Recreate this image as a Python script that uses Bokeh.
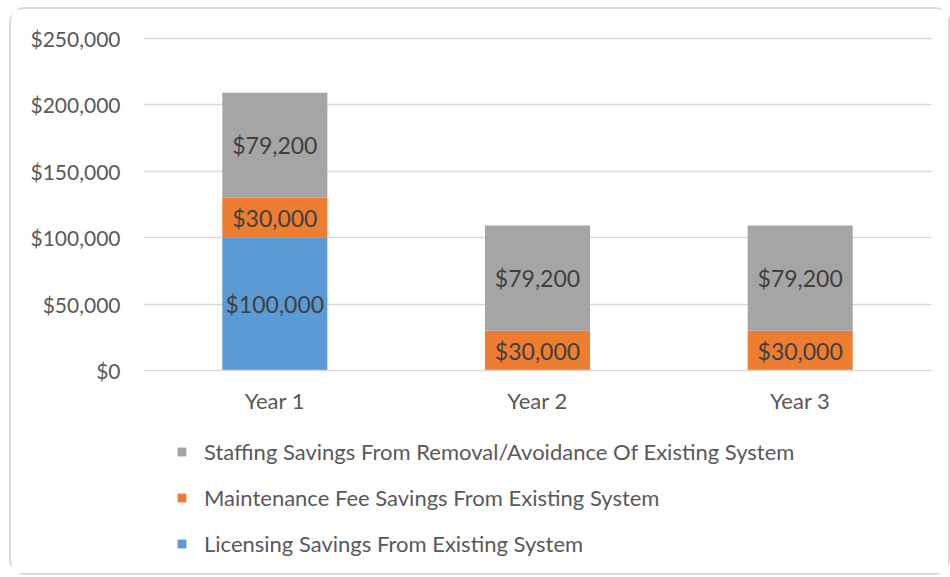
from bokeh.plotting import figure
from bokeh.layouts import column
from bokeh.models import (FactorRange, Range1d, FixedTicker, NumeralTickFormatter,
                          ColumnDataSource, Legend, LegendItem)
from bokeh.core.properties import value
from bokeh.embed import file_html
from bokeh.resources import INLINE

# ---- data ----
categories = ["Year 1", "Year 2", "Year 3"]
licensing = [100000, 0, 0]
maintenance = [30000, 30000, 30000]
staffing = [79200, 79200, 79200]
series_names = ["Licensing Savings From Existing System",
                "Maintenance Fee Savings From Existing System",
                "Staffing Savings From Removal/Avoidance Of Existing System"]
y_ticks = [0, 50000, 100000, 150000, 200000, 250000]

colors = ["#5B9BD5", "#ED7D31", "#A5A5A5"]
keys = ["licensing", "maintenance", "staffing"]
FONT = "Lato"
TXT = "#595959"

src = ColumnDataSource(dict(x=categories, licensing=licensing,
                            maintenance=maintenance, staffing=staffing))

W = 937
p = figure(x_range=FactorRange(*categories, range_padding=0),
           y_range=Range1d(0, 250753),
           width=W, height=416,
           min_border_left=132, min_border_right=17,
           min_border_top=28, min_border_bottom=55,
           output_backend="svg", toolbar_location=None)

rs = p.vbar_stack(keys, x="x", width=0.4, color=colors, source=src,
                  line_color=None)

# data labels
lx, ly, lt = [], [], []
bottoms = [0, 0, 0]
for series in [licensing, maintenance, staffing]:
    for i, v in enumerate(series):
        if v > 0:
            lx.append(categories[i])
            ly.append(bottoms[i] + v / 2)
            lt.append("${:,}".format(v))
        bottoms[i] += v
p.text(x=lx, y=ly, text=lt, text_align="center", text_baseline="middle",
       text_font=value(FONT), text_font_size="23px", text_color="#404040")

# axes
p.xgrid.grid_line_color = None
p.ygrid.grid_line_color = "#D9D9D9"
p.ygrid.grid_line_width = 1.5
p.yaxis.ticker = FixedTicker(ticks=y_ticks)
p.yaxis.formatter = NumeralTickFormatter(format="$0,0")
p.yaxis.axis_line_color = None
p.yaxis.major_tick_line_color = None
p.yaxis.minor_tick_line_color = None
p.yaxis.major_label_standoff = 17
p.yaxis.major_label_text_font_size = "21px"
p.xaxis.axis_line_color = "#D9D9D9"
p.xaxis.axis_line_width = 1.5
p.xaxis.major_tick_line_color = None
p.xaxis.minor_tick_line_color = None
p.xaxis.major_label_standoff = 10
p.xaxis.major_label_text_font_size = "22px"
for ax in (p.xaxis, p.yaxis):
    ax.major_label_text_font = FONT
    ax.major_label_text_color = TXT
p.outline_line_color = None

# legend panel (second figure; zero-area proxy bars only carry the swatch colours)
p2 = figure(x_range=FactorRange(*categories, range_padding=0),
            y_range=Range1d(0, 1),
            width=W, height=148, min_border=0,
            x_axis_type=None, y_axis_type=None,
            output_backend="svg", toolbar_location=None)
p2.grid.visible = False
p2.outline_line_color = None
proxies = [p2.vbar(x=categories, top=s, bottom=s, width=0, color=c,
                   line_color=None)
           for s, c in zip([licensing, maintenance, staffing], colors)]

items = [LegendItem(label=series_names[2], renderers=[proxies[2]]),
         LegendItem(label=series_names[1], renderers=[proxies[1]]),
         LegendItem(label=series_names[0], renderers=[proxies[0]])]
legend = Legend(items=items, location=(33, 16), orientation="vertical",
                glyph_width=11, glyph_height=11, label_standoff=17,
                label_height=26, spacing=19, padding=0, margin=0,
                label_text_font=FONT, label_text_font_size="22px",
                label_text_color=TXT, border_line_color=None,
                background_fill_alpha=0)
p2.add_layout(legend, "center")

layout = column(p, p2, spacing=0)
layout.styles = {"border": "2px solid #D9D9D9", "border-radius": "16px",
                 "margin-left": "9px", "margin-top": "7px",
                 "background": "white"}

open("out.html", "w").write(file_html(layout, INLINE))
